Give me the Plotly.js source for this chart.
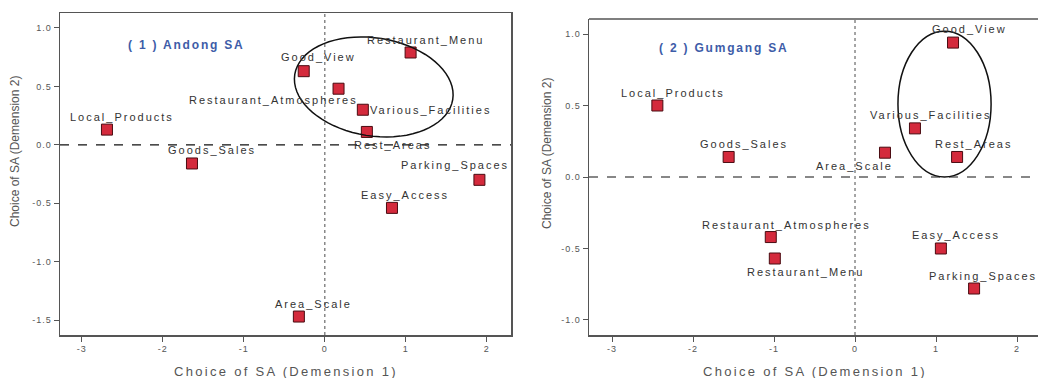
<!DOCTYPE html>
<html><head><meta charset="utf-8">
<script src="https://cdn.plot.ly/plotly-3.0.1.min.js"></script>
<style>html,body{margin:0;padding:0;background:#fff}#c{width:1038px;height:378px}
#c .xtick text,#c .ytick text,#c .x2tick text,#c .y2tick text{letter-spacing:1px}</style>
</head><body><div id="c"></div>
<script>
// Panel 1: Andong SA
const andongLabels = ["Restaurant_Menu","Good_View","Restaurant_Atmospheres","Various_Facilities","Rest_Areas","Local_Products","Goods_Sales","Parking_Spaces","Easy_Access","Area_Scale"];
const andongDim1 = [1.06, -0.26, 0.17, 0.47, 0.52, -2.69, -1.64, 1.91, 0.83, -0.32];
const andongDim2 = [0.79, 0.63, 0.48, 0.30, 0.11, 0.13, -0.16, -0.30, -0.54, -1.47];
// Panel 2: Gumgang SA
const gumgangLabels = ["Good_View","Local_Products","Various_Facilities","Goods_Sales","Area_Scale","Rest_Areas","Restaurant_Atmospheres","Restaurant_Menu","Easy_Access","Parking_Spaces"];
const gumgangDim1 = [1.21, -2.44, 0.74, -1.56, 0.37, 1.26, -1.04, -0.99, 1.06, 1.47];
const gumgangDim2 = [0.94, 0.50, 0.34, 0.14, 0.17, 0.14, -0.42, -0.57, -0.50, -0.78];
const xTicks = [-3, -2, -1, 0, 1, 2];
const yTicks1 = [1.0, 0.5, 0.0, -0.5, -1.0, -1.5];
const yTicks2 = [1.0, 0.5, 0.0, -0.5, -1.0];
const panelTitles = ["( 1 ) Andong SA", "( 2 ) Gumgang SA"];
const xTitle = "Choice of SA (Demension 1)";
const yTitle = "Choice of SA (Demension 2)";

// label placement relative to marker, in px (style only)
const andongShift = [[15,12],[15,14],[-65,-11],[68,0],[26,-13],[15,13],[20,13],[-24,15],[13,13],[15,13]];
const gumgangShift = [[16,14],[16,13],[16,13],[15,13],[-30,-13],[16,13],[16,12],[31,-13],[15,13],[9,13]];

const FONT = "Liberation Sans, Arial, sans-serif";
const W = 1038, H = 378;
const sp = (t, ls) => `<span style="letter-spacing:${ls}px">${t}</span>`;

const marker = {symbol:"square", size:11, color:"#d42a3c", line:{color:"#4a0c12", width:1}};
const traces = [
  {x:andongDim1, y:andongDim2, mode:"markers", type:"scatter", marker:marker, xaxis:"x", yaxis:"y", cliponaxis:false},
  {x:gumgangDim1, y:gumgangDim2, mode:"markers", type:"scatter", marker:marker, xaxis:"x2", yaxis:"y2", cliponaxis:false}
];

const axFont = {family:FONT, size:9, color:"#555"};
function xa(dom, range, anchor){
  return {domain:dom, range:range, tickvals:xTicks, ticktext:xTicks.map(String), ticks:"outside", ticklen:5, tickcolor:"#555",
    showline:true, linecolor:"#555", linewidth:1.5, showgrid:false, zeroline:false, tickfont:axFont, anchor:anchor, fixedrange:true};
}
function ya(dom, range, ticks, anchor){
  return {domain:dom, range:range, tickvals:ticks, ticktext:ticks.map(v=>v.toFixed(1)), ticks:"outside", ticklen:5, tickcolor:"#555",
    showline:true, linecolor:"#555", linewidth:1.5, showgrid:false, zeroline:false, tickfont:axFont, anchor:anchor, fixedrange:true};
}

// tilted ellipse (decoration) for panel 1, built in pixel space then mapped to data
function ellipsePath(cx, cy, aPx, bPx, rotDeg, pxPerX, pxPerY){
  const th = rotDeg*Math.PI/180, pts = [];
  for(let i=0;i<=72;i++){
    const t = i/72*2*Math.PI;
    const dx = aPx*Math.cos(t)*Math.cos(th) - bPx*Math.sin(t)*Math.sin(th);
    const dy = aPx*Math.cos(t)*Math.sin(th) + bPx*Math.sin(t)*Math.cos(th);
    pts.push((i?"L":"M") + (cx + dx/pxPerX).toFixed(4) + "," + (cy - dy/pxPerY).toFixed(4));
  }
  return pts.join(" ") + " Z";
}

const annotations = [];
function addLabels(labels, xs, ys, shifts, xr, yr){
  labels.forEach((t,i)=>annotations.push({text:sp(t,2), x:xs[i], y:ys[i], xref:xr, yref:yr, showarrow:false,
    xanchor:"center", yanchor:"middle",
    xshift:shifts[i][0], yshift:shifts[i][1], font:{family:FONT, size:11, color:"#333"}}));
}
addLabels(andongLabels, andongDim1, andongDim2, andongShift, "x", "y");
addLabels(gumgangLabels, gumgangDim1, gumgangDim2, gumgangShift, "x2", "y2");

function paperText(text, px, py, font, angle){
  annotations.push({text:text, xref:"paper", yref:"paper", x:px/W, y:1-py/H, xanchor:"center", yanchor:"middle",
    showarrow:false, font:font, textangle:angle||0});
}
const titleFont = {family:FONT, size:12, color:"#3d5ca8"};
paperText("<b>"+sp(panelTitles[0],1.8)+"</b>", 186, 45, titleFont);
paperText("<b>"+sp(panelTitles[1],1.8)+"</b>", 723, 48, titleFont);
const axTitleFont = {family:FONT, size:13, color:"#555"};
paperText(sp(xTitle,2.3), 286, 371, axTitleFont);
paperText(sp(xTitle,2.3), 815, 371, axTitleFont);
paperText(yTitle, 15, 152, {family:FONT, size:12, color:"#555"}, -90);
paperText(yTitle, 547, 154, {family:FONT, size:12, color:"#555"}, -90);

const layout = {
  width:W, height:H, margin:{l:0,r:0,t:0,b:0}, paper_bgcolor:"#fff", plot_bgcolor:"#fff", showlegend:false,
  xaxis: Object.assign(xa([60/W, 511/W], [-3.27, 2.30], "y"), {mirror:true}),
  yaxis: Object.assign(ya([1-335/H, 1-13/H], [-1.628, 1.128], yTicks1, "x"), {mirror:true}),
  xaxis2: xa([589/W, 1], [-3.284, 2.259], "y2"),
  yaxis2: ya([1-335/H, 1-19/H], [-1.105, 1.105], yTicks2, "x2"),
  shapes:[
    {type:"line", xref:"x", yref:"y domain", x0:0, x1:0, y0:0, y1:1, line:{color:"#888", width:1.5, dash:"dot"}},
    {type:"line", xref:"x domain", yref:"y", x0:0, x1:1, y0:0, y1:0, line:{color:"#111", width:1.2, dash:"dash"}},
    {type:"line", xref:"x2", yref:"y2 domain", x0:0, x1:0, y0:0, y1:1, line:{color:"#888", width:1.5, dash:"dot"}},
    {type:"line", xref:"x2 domain", yref:"y2", x0:0, x1:1, y0:0, y1:0, line:{color:"#111", width:1.2, dash:"dash"}},
    {type:"line", xref:"x2 domain", yref:"y2 domain", x0:0, x1:1, y0:1, y1:1, line:{color:"#555", width:1.5}},
    {type:"path", xref:"x", yref:"y", path:ellipsePath(0.605, 0.495, 80, 49, 9, 81, 116.8), line:{color:"#111", width:1.5}},
    {type:"circle", xref:"x2", yref:"y2", x0:0.53, x1:1.68, y0:0.0, y1:1.02, line:{color:"#111", width:1.5}}
  ],
  annotations:annotations
};
Plotly.newPlot("c", traces, layout, {displayModeBar:false, staticPlot:true});
</script></body></html>
